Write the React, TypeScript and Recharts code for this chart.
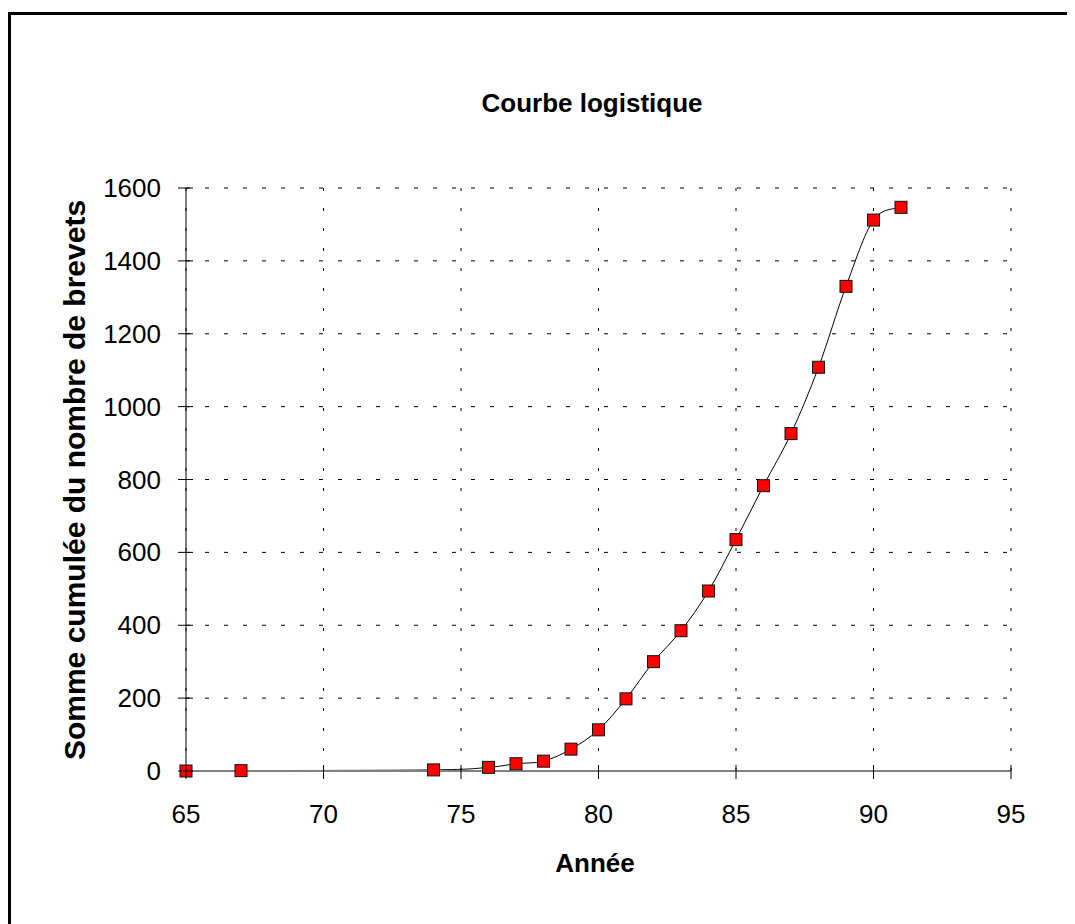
import { CartesianGrid, Line, LineChart, XAxis, YAxis } from "recharts"

const years = [65, 67, 74, 76, 77, 78, 79, 80, 81, 82, 83, 84, 85, 86, 87, 88, 89, 90, 91]
const totals = [0, 1, 3, 10, 20, 27, 60, 113, 198, 300, 385, 494, 635, 783, 926, 1108, 1330, 1512, 1547]

const xTicks = [65, 70, 75, 80, 85, 90, 95]
const yTicks = [0, 200, 400, 600, 800, 1000, 1200, 1400, 1600]

const title = "Courbe logistique"
const xTitle = "Année"
const yTitle = "Somme cumulée du nombre de brevets"

const font = "'Liberation Sans', Arial, sans-serif"

const data = years.map((year, i) => ({ year, total: totals[i] }))

// Catmull-Rom style smoothing, close to the spreadsheet "smoothed line"
function smoothCurve(context: any) {
  let pts: number[][] = []
  return {
    areaStart() {},
    areaEnd() {},
    lineStart() {
      pts = []
    },
    point(x: number, y: number) {
      pts.push([+x, +y])
    },
    lineEnd() {
      if (!pts.length) return
      context.moveTo(pts[0][0], pts[0][1])
      for (let i = 0; i < pts.length - 1; i++) {
        const p0 = pts[i - 1] || pts[i]
        const p1 = pts[i]
        const p2 = pts[i + 1]
        const p3 = pts[i + 2] || p2
        context.bezierCurveTo(
          p1[0] + (p2[0] - p0[0]) / 6,
          p1[1] + (p2[1] - p0[1]) / 6,
          p2[0] - (p3[0] - p1[0]) / 6,
          p2[1] - (p3[1] - p1[1]) / 6,
          p2[0],
          p2[1]
        )
      }
    },
  }
}

function XTick(props: any) {
  const { x, y, payload } = props
  return (
    <g>
      <line x1={x} x2={x} y1={y - 6} y2={y + 8} stroke="#000" strokeWidth={1} />
      <text x={x} y={y + 52} textAnchor="middle" fontSize={26} fontFamily={font} fill="#000">
        {payload.value}
      </text>
    </g>
  )
}

function YTick(props: any) {
  const { x, y, payload } = props
  return (
    <g>
      <line x1={x - 8} x2={x + 7} y1={y} y2={y} stroke="#000" strokeWidth={1} />
      <text x={x - 25} y={y + 9} textAnchor="end" fontSize={26} fontFamily={font} fill="#000">
        {payload.value}
      </text>
    </g>
  )
}

// square marker
function SquareDot(props: any) {
  const { cx, cy, index } = props
  if (cx == null || cy == null) return null
  return (
    <rect
      key={index}
      x={cx - 6}
      y={cy - 6}
      width={12}
      height={12}
      fill="#ff0000"
      stroke="#111"
      strokeWidth={1}
    />
  )
}

export default function App() {
  return (
    <div style={{ position: "relative", width: 1067, height: 916, overflow: "hidden", background: "#fff" }}>
      <div
        style={{
          position: "absolute",
          left: 0,
          top: 4,
          width: 2000,
          height: 2000,
          borderLeft: "3px solid #000",
          borderTop: "3px solid #000",
        }}
      />
      <div style={{ position: "absolute", left: 0, top: 0 }}>
        <LineChart
          width={1067}
          height={916}
          data={data}
          margin={{ top: 180, right: 64, bottom: 93, left: 0 }}
        >
          <CartesianGrid
            horizontal={true}
            vertical={false}
            stroke="#000"
            strokeDasharray="4 15"
          />
          <CartesianGrid
            horizontal={false}
            vertical={true}
            stroke="#000"
            strokeDasharray="3 17"
          />
          <XAxis
            dataKey="year"
            type="number"
            domain={[65, 95]}
            ticks={xTicks}
            height={60}
            tickSize={0}
            tickMargin={0}
            tickLine={false}
            tick={<XTick />}
            axisLine={{ stroke: "#808080", strokeWidth: 2 }}
            interval={0}
          />
          <YAxis
            type="number"
            domain={[0, 1600]}
            ticks={yTicks}
            width={178}
            tickSize={0}
            tickMargin={0}
            tickLine={false}
            tick={<YTick />}
            axisLine={{ stroke: "#000", strokeWidth: 1 }}
            interval={0}
          />
          <Line
            type={smoothCurve as any}
            dataKey="total"
            stroke="#000"
            strokeWidth={1}
            dot={<SquareDot />}
            activeDot={false}
            isAnimationActive={false}
          />
        </LineChart>
      </div>
      <svg
        width={1067}
        height={916}
        style={{ position: "absolute", left: 0, top: 0, pointerEvents: "none" }}
      >
        <text x={584} y={104} textAnchor="middle" fontSize={26} fontWeight="bold" fontFamily={font}>
          {title}
        </text>
        <text x={587} y={864} textAnchor="middle" fontSize={26} fontWeight="bold" fontFamily={font}>
          {xTitle}
        </text>
        <text
          transform="translate(77, 472) rotate(-90)"
          textAnchor="middle"
          fontSize={30}
          fontWeight="bold"
          fontFamily={font}
        >
          {yTitle}
        </text>
      </svg>
    </div>
  )
}
